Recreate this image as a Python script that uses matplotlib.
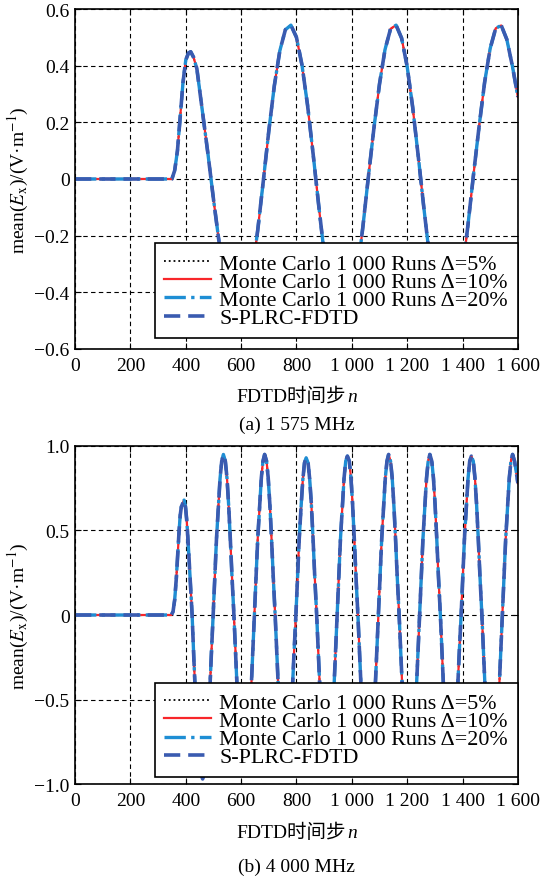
import matplotlib
matplotlib.use('Agg')
import matplotlib.pyplot as plt
from matplotlib.offsetbox import TextArea, HPacker, AnchoredOffsetbox

plt.rcParams['font.family'] = ['Liberation Serif', 'Noto Sans CJK SC']
plt.rcParams['mathtext.fontset'] = 'stix'

# ---------------- data ----------------
x_ticks = [0, 200, 400, 600, 800, 1000, 1200, 1400, 1600]
x_labels = ['0', '200', '400', '600', '800', '1 000', '1 200', '1 400', '1 600']

top_yticks = [-0.6, -0.4, -0.2, 0, 0.2, 0.4, 0.6]
top_ylabels = ['−0.6', '−0.4', '−0.2', '0', '0.2', '0.4', '0.6']
bot_yticks = [-1.0, -0.5, 0, 0.5, 1.0]
bot_ylabels = ['−1.0', '−0.5', '0', '0.5', '1.0']

legend_labels = ['Monte Carlo 1 000 Runs Δ=5%',
                 'Monte Carlo 1 000 Runs Δ=10%',
                 'Monte Carlo 1 000 Runs Δ=20%',
                 'S-PLRC-FDTD']

# (a) 1 575 MHz : time step n and mean(Ex)
top_n = [0, 340, 350, 360, 370, 380, 390, 400, 410, 418, 428, 440,
         460, 480, 500, 520, 540, 560, 580, 600, 620, 640, 660, 680,
         700, 720, 740, 760, 780, 800, 820, 840, 860, 880, 900, 920,
         940, 960, 980, 1000, 1020, 1040, 1060, 1080, 1100, 1120, 1140,
         1160, 1180, 1200, 1220, 1240, 1260, 1280, 1300, 1320, 1340,
         1360, 1380, 1400, 1420, 1440, 1460, 1480, 1500, 1520, 1540,
         1560, 1580, 1600]
top_ex = [0, 0, 0.0, 0.03, 0.10, 0.22, 0.34, 0.42, 0.445, 0.449, 0.43, 0.39,
          0.24, 0.09, -0.07, -0.22, -0.38, -0.48, -0.527, -0.517, -0.45, -0.334, -0.181, -0.009,
          0.169, 0.329, 0.453, 0.527, 0.543, 0.500, 0.402, 0.261, 0.090, -0.090, -0.261, -0.402,
          -0.500, -0.543, -0.527, -0.453, -0.329, -0.169, 0.009, 0.18, 0.335, 0.457, 0.530,
          0.543, 0.497, 0.397, 0.253, 0.081, -0.099, -0.268, -0.407, -0.503, -0.544,
          -0.525, -0.448, -0.322, -0.160, 0.018, 0.186, 0.342, 0.461, 0.532, 0.542,
          0.493, 0.40, 0.29]

# (b) 4 000 MHz : time step n and mean(Ex)
bot_n = [0, 340, 348, 354, 360, 366, 371, 376, 380, 384, 389, 394, 399, 403, 406, 411, 417, 423,
         429, 435, 442, 448, 454, 461, 467, 473, 479, 486, 492,
         499, 505, 511, 518, 524, 530, 536, 543, 549, 555, 561, 567, 574, 580, 586, 592, 599, 605, 611, 617, 623, 630, 636, 642,
         648, 654, 660, 667, 673, 679, 685, 692, 698, 704, 710, 716, 723, 729, 735, 741, 748, 754, 760, 766, 772, 779, 785, 791,
         798, 804, 810, 817, 823, 829, 835, 842, 848, 854, 860, 866, 873, 879, 885, 891, 898, 904, 910, 916, 922, 929, 935, 941,
         947, 953, 959, 966, 972, 978, 984, 991, 997, 1003, 1009, 1015, 1022, 1028, 1034, 1040, 1047, 1053, 1059, 1065, 1071, 1078, 1084, 1090,
         1096, 1102, 1108, 1115, 1121, 1127, 1133, 1140, 1146, 1152, 1158, 1164, 1171, 1177, 1183, 1189, 1196, 1202, 1208, 1214, 1220, 1227, 1233, 1239,
         1245, 1251, 1257, 1264, 1270, 1276, 1282, 1289, 1295, 1301, 1307, 1313, 1320, 1326, 1332, 1338, 1345, 1351, 1357, 1363, 1369, 1376, 1382, 1388,
         1395, 1401, 1407, 1414, 1420, 1426, 1432, 1439, 1445, 1451, 1457, 1463, 1470, 1476, 1482, 1488, 1495, 1501, 1507, 1513, 1519, 1526, 1532, 1538,
         1544, 1550, 1556, 1563, 1569, 1575, 1581, 1588, 1594, 1600]
bot_ex = [0, 0, 0, 0.02, 0.09, 0.22, 0.36, 0.50, 0.59, 0.64, 0.66, 0.68, 0.64, 0.57, 0.50, 0.36, 0.18, 0,
          -0.25, -0.48, -0.68, -0.83, -0.93, -0.97, -0.93, -0.83, -0.68, -0.48, -0.25,
          0, 0.23, 0.45, 0.65, 0.81, 0.91, 0.95, 0.91, 0.81, 0.65, 0.45, 0.23, 0, -0.23, -0.45, -0.65, -0.81, -0.91, -0.945, -0.91, -0.81, -0.65, -0.45, -0.23,
          0, 0.23, 0.45, 0.65, 0.81, 0.91, 0.95, 0.91, 0.81, 0.65, 0.45, 0.23, 0, -0.23, -0.45, -0.65, -0.81, -0.91, -0.945, -0.91, -0.81, -0.65, -0.45, -0.23,
          0, 0.23, 0.45, 0.65, 0.80, 0.90, 0.93, 0.90, 0.80, 0.65, 0.45, 0.23, 0, -0.23, -0.45, -0.65, -0.81, -0.91, -0.945, -0.91, -0.81, -0.65, -0.45, -0.23,
          0, 0.23, 0.45, 0.65, 0.81, 0.91, 0.94, 0.91, 0.81, 0.65, 0.45, 0.23, 0, -0.23, -0.45, -0.65, -0.81, -0.91, -0.945, -0.91, -0.81, -0.65, -0.45, -0.23,
          0, 0.23, 0.45, 0.65, 0.81, 0.91, 0.95, 0.91, 0.81, 0.65, 0.45, 0.23, 0, -0.23, -0.45, -0.65, -0.81, -0.91, -0.945, -0.91, -0.81, -0.65, -0.45, -0.23,
          0, 0.23, 0.45, 0.65, 0.81, 0.91, 0.95, 0.91, 0.81, 0.65, 0.45, 0.23, 0, -0.23, -0.45, -0.65, -0.81, -0.91, -0.945, -0.91, -0.81, -0.65, -0.45, -0.23,
          0, 0.23, 0.45, 0.65, 0.81, 0.91, 0.94, 0.91, 0.81, 0.65, 0.45, 0.23, 0, -0.23, -0.45, -0.65, -0.81, -0.91, -0.945, -0.91, -0.81, -0.65, -0.45, -0.23,
          0, 0.23, 0.45, 0.65, 0.81, 0.91, 0.95, 0.91, 0.85, 0.78]

# the four curves overlap in the picture
top_series = [top_ex, top_ex, top_ex, top_ex]
bot_series = [bot_ex, bot_ex, bot_ex, bot_ex]

# ---------------- drawing ----------------
styles = [dict(color='black', linestyle=':', linewidth=1.3),
          dict(color='#f8262a', linestyle='-', linewidth=1.6),
          dict(color='#1e8ed4', linestyle='-.', linewidth=2.4),
          dict(color='#3a5bb0', linestyle=(0, (4.5, 2.2)), linewidth=2.6)]

fig = plt.figure(figsize=(5.4, 8.78), dpi=100)
ax1 = fig.add_axes([0.139, 0.6014, 0.820, 0.3872])
ax2 = fig.add_axes([0.139, 0.1059, 0.820, 0.3850])

cjk_family = ['Liberation Serif', 'Noto Sans CJK SC']


def setup(ax, n, series, yticks, ylabels, ylim, leg_y, xlab_y):
    for s, st, lab in zip(series, styles, legend_labels):
        ax.plot(n, s, label=lab, **st)
    ax.set_xlim(0, 1600)
    ax.set_ylim(*ylim)
    ax.set_xticks(x_ticks)
    ax.set_xticklabels(x_labels)
    ax.set_yticks(yticks)
    ax.set_yticklabels(ylabels)
    ax.grid(True, color='black', linestyle=(0, (4, 3)), linewidth=0.8)
    ax.set_axisbelow(True)
    ax.tick_params(direction='in', top=True, right=True, labelsize=14,
                   length=4, colors='black')
    ax.tick_params(axis='x', pad=6)
    ax.tick_params(axis='y', pad=4)
    for sp in ax.spines.values():
        sp.set_linewidth(1.2)
    ax.set_ylabel('mean($\\mathit{E}_{\\mathrm{x}}$)/(V·m$^{-1}$)', fontsize=14, labelpad=2)
    # x label: "FDTD时间步" + italic n
    t1 = TextArea('FDTD时间步', textprops=dict(fontsize=14, family=cjk_family))
    t2 = TextArea('n', textprops=dict(fontsize=14, family='Liberation Serif', style='italic'))
    pack = HPacker(children=[t1, t2], align='baseline', pad=0, sep=1)
    ab = AnchoredOffsetbox(loc='upper center', child=pack, pad=0, borderpad=0,
                           frameon=False, bbox_to_anchor=(0.5, xlab_y),
                           bbox_transform=ax.transAxes)
    ax.add_artist(ab)
    leg = ax.legend(loc='lower right', bbox_to_anchor=(1.0, leg_y), borderaxespad=0,
                    fontsize=15.8, frameon=True, fancybox=False, edgecolor='black',
                    framealpha=1, labelspacing=-0.1, handlelength=2.1,
                    handletextpad=0.4, borderpad=0.45)
    leg.get_frame().set_linewidth(1.2)


setup(ax1, top_n, top_series, top_yticks, top_ylabels, (-0.6, 0.6), 0.032, -0.11)
setup(ax2, bot_n, bot_series, bot_yticks, bot_ylabels, (-1.0, 1.0), 0.02, -0.114)

fig.text(0.549, 0.516, '(a) 1 575 MHz', ha='center', va='center', fontsize=14)
fig.text(0.549, 0.012, '(b) 4 000 MHz', ha='center', va='center', fontsize=14)

fig.savefig('out.png', dpi=100)
